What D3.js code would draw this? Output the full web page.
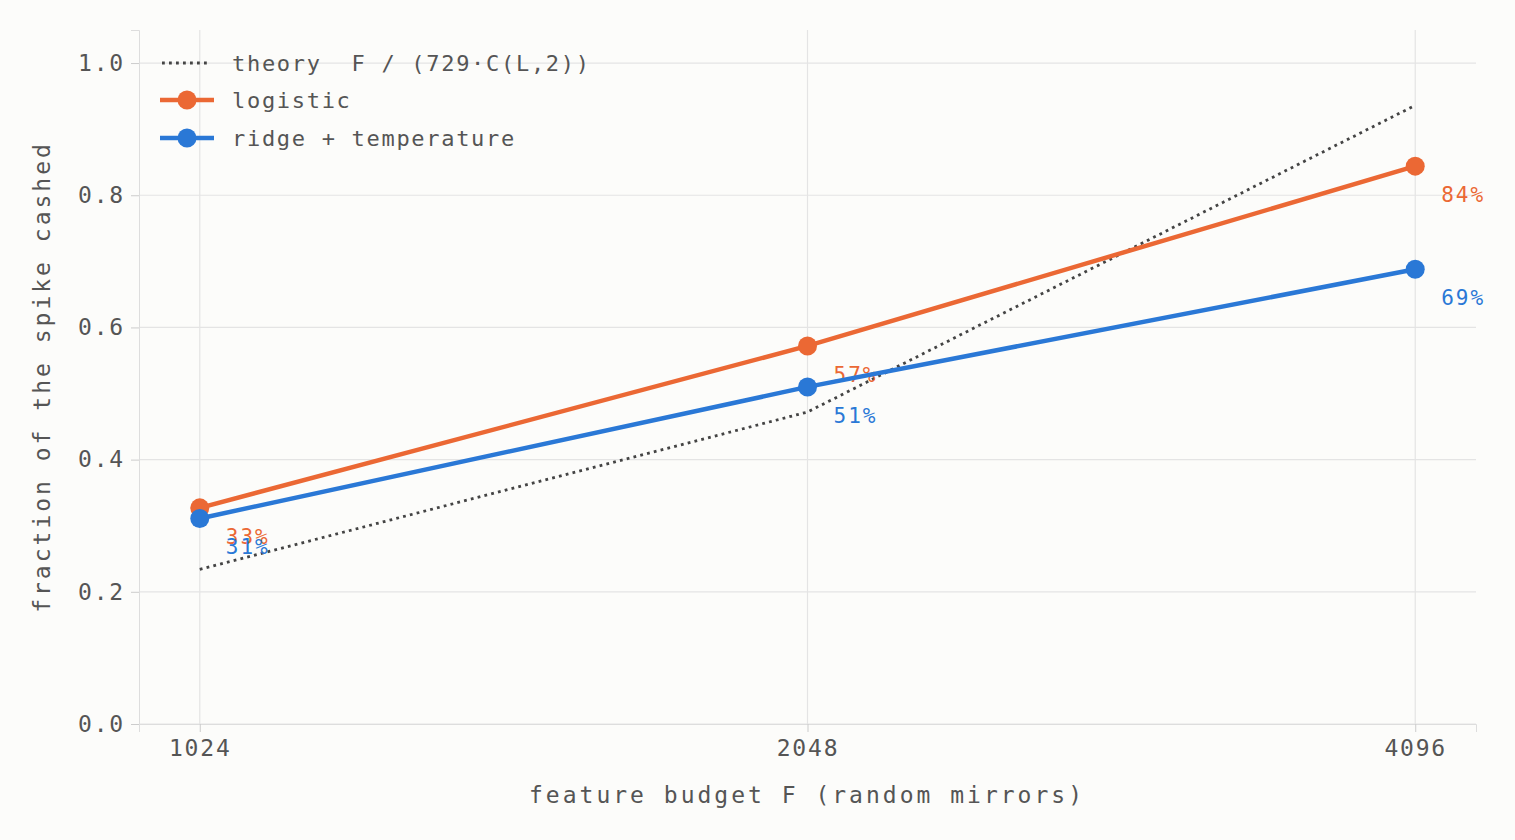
<!DOCTYPE html>
<html><head><meta charset="utf-8">
<script src="https://cdn.jsdelivr.net/npm/d3@7"></script>
<style>body{margin:0;background:#fcfcfa}text{font-family:"DejaVu Sans Mono",monospace;fill:#555;white-space:pre}</style>
</head><body><svg id="c" width="1515" height="840"></svg>
<script>
const budgets = [1024, 2048, 4096];
const logistic = [0.327, 0.572, 0.844];
const ridge = [0.311, 0.510, 0.688];
const theory = [0.234, 0.472, 0.936];
const yTicks = [0, 0.2, 0.4, 0.6, 0.8, 1.0];

const svg = d3.select("#c");
const x = d3.scaleLog().base(2).domain([Math.pow(2, 9.9), Math.pow(2, 12.1)]).range([139, 1476]);
const y = d3.scaleLinear().domain([0, 1.05]).range([724, 30]);

// grid
svg.append("g").selectAll("line").data(yTicks).join("line")
  .attr("x1", 139).attr("x2", 1476).attr("y1", d => y(d)).attr("y2", d => y(d))
  .attr("stroke", "#e4e4e4").attr("stroke-width", 1.2);
svg.append("g").selectAll("line").data(budgets).join("line")
  .attr("y1", 30).attr("y2", 724).attr("x1", d => x(d)).attr("x2", d => x(d))
  .attr("stroke", "#e4e4e4").attr("stroke-width", 1.2);

// axes
const yAxis = svg.append("g").attr("transform", "translate(139,0)")
  .call(d3.axisLeft(y).tickValues(yTicks).tickFormat(d3.format(".1f")).tickSize(8).tickPadding(6));
const xAxis = svg.append("g").attr("transform", "translate(0,724)")
  .call(d3.axisBottom(x).tickValues(budgets).tickFormat(d => d).tickSize(8).tickPadding(8));
[yAxis, xAxis].forEach(a => {
  a.select(".domain").attr("stroke", "#ddd");
  a.selectAll(".tick line").attr("stroke", "#ccc");
  a.selectAll("text").attr("font-size", 23).attr("letter-spacing", 1.8).style("fill", "#555");
});

svg.append("text").attr("x", 807).attr("y", 803).attr("text-anchor", "middle").attr("font-size", 23)
  .attr("letter-spacing", 3).text("feature budget F (random mirrors)");
svg.append("text").attr("transform", "translate(50,377) rotate(-90)").attr("text-anchor", "middle").attr("font-size", 23)
  .attr("letter-spacing", 3).text("fraction of the spike cashed");

const line = d3.line().x((d, i) => x(budgets[i])).y(d => y(d));
svg.append("path").datum(theory).attr("d", line).attr("fill", "none")
  .attr("stroke", "#444").attr("stroke-width", 2.8).attr("stroke-dasharray", "2.8,4.2");

const series = [
  {name: "logistic", vals: logistic, color: "#eb6834"},
  {name: "ridge + temperature", vals: ridge, color: "#2a78d6"}
];
series.forEach(s => {
  svg.append("path").datum(s.vals).attr("d", line).attr("fill", "none")
    .attr("stroke", s.color).attr("stroke-width", 4.5);
  svg.append("g").selectAll("circle").data(s.vals).join("circle")
    .attr("cx", (d, i) => x(budgets[i])).attr("cy", d => y(d)).attr("r", 9.5).attr("fill", s.color);
  svg.append("g").selectAll("text").data(s.vals).join("text")
    .attr("x", (d, i) => x(budgets[i]) + 26).attr("y", d => y(d) + 36)
    .attr("font-size", 21).attr("letter-spacing", 2).style("fill", s.color).text(d => Math.round(d * 100) + "%");
});

// legend
const leg = svg.append("g");
leg.append("line").attr("x1", 162).attr("x2", 210).attr("y1", 63).attr("y2", 63)
  .attr("stroke", "#444").attr("stroke-width", 2.8).attr("stroke-dasharray", "2.8,4.2");
leg.append("text").attr("x", 232).attr("y", 71).attr("font-size", 22).attr("letter-spacing", 1.7).text("theory  F / (729·C(L,2))");
series.forEach((s, i) => {
  const yy = 100 + i * 38;
  leg.append("line").attr("x1", 160).attr("x2", 214).attr("y1", yy).attr("y2", yy).attr("stroke", s.color).attr("stroke-width", 4.5);
  leg.append("circle").attr("cx", 187).attr("cy", yy).attr("r", 9.5).attr("fill", s.color);
  leg.append("text").attr("x", 232).attr("y", yy + 8).attr("font-size", 22).attr("letter-spacing", 1.7).text(s.name);
});
</script></body></html>
